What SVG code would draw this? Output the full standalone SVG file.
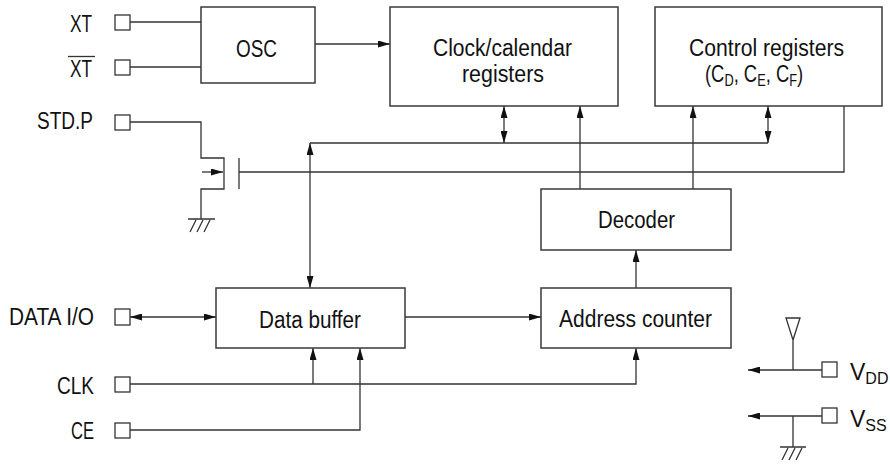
<svg xmlns="http://www.w3.org/2000/svg" width="890" height="465" viewBox="0 0 890 465">
<style>
.bx{fill:#fff;stroke:#3a3a3a;stroke-width:1.5}
.ln{fill:none;stroke:#333;stroke-width:1.3}
.pad{fill:#fff;stroke:#333;stroke-width:1.3}
.t{font-family:"Liberation Sans Narrow","Liberation Sans",Arial,sans-serif;font-size:23px;fill:#111}
.s{font-size:16px}
</style>
<defs>
<marker id="a" viewBox="0 0 12 7" refX="12" refY="3.5" markerWidth="12" markerHeight="7" markerUnits="userSpaceOnUse" orient="auto-start-reverse">
<path d="M0,0L12,3.5L0,7z" fill="#111"/>
</marker>
</defs>
<rect width="890" height="465" fill="#fff"/>
<g id="connectors">
<path class="ln" d="M130,22H201M130,67H201"/>
<path class="ln" d="M315,44H390" marker-end="url(#a)"/>
<path class="ln" d="M130,122H201V158H224V189H201V219"/>
<path class="ln" d="M202,172H223" marker-end="url(#a)"/>
<path class="ln" d="M239,158V189"/>
<path class="ln" d="M188,219H215M196,220L190,232M203,220L197,232M210,220L204,232"/>
<path class="ln" d="M239,172H844V106"/>
<path class="ln" d="M310,143H768"/>
<path class="ln" d="M310,143V288" marker-start="url(#a)" marker-end="url(#a)"/>
<path class="ln" d="M504,106V143" marker-start="url(#a)" marker-end="url(#a)"/>
<path class="ln" d="M768,106V143" marker-start="url(#a)" marker-end="url(#a)"/>
<path class="ln" d="M580,189V106" marker-end="url(#a)"/>
<path class="ln" d="M693,189V106" marker-end="url(#a)"/>
<path class="ln" d="M636,288V250" marker-end="url(#a)"/>
<path class="ln" d="M130,317H216" marker-start="url(#a)" marker-end="url(#a)"/>
<path class="ln" d="M405,317H541" marker-end="url(#a)"/>
<path class="ln" d="M130,384H636V348" marker-end="url(#a)"/>
<path class="ln" d="M313,384V348" marker-end="url(#a)"/>
<path class="ln" d="M130,430H360V348" marker-end="url(#a)"/>
<path class="ln" d="M822,370H748" marker-end="url(#a)"/>
<path class="ln" d="M793,340V370M786,318H800L793,340Z"/>
<path class="ln" d="M822,416H748" marker-end="url(#a)"/>
<path class="ln" d="M793,416V447M780,447H806M788,448L782,460M795,448L789,460M802,448L796,460"/>
</g>
<g id="pad-xt"><rect class="pad" x="115" y="15" width="15" height="15"/><text class="t" x="70" y="32" textLength="22" lengthAdjust="spacingAndGlyphs">XT</text></g>
<g id="pad-xtbar"><rect class="pad" x="115" y="60" width="15" height="15"/><text class="t" x="70" y="76.5" textLength="22" lengthAdjust="spacingAndGlyphs">XT</text><path class="ln" d="M68,56.5H95"/></g>
<g id="pad-stdp"><rect class="pad" x="115" y="115" width="15" height="15"/><text class="t" x="37" y="128.5" textLength="56" lengthAdjust="spacingAndGlyphs">STD.P</text></g>
<g id="pad-dataio"><rect class="pad" x="115" y="309" width="15" height="16"/><text class="t" x="9" y="325" textLength="85" lengthAdjust="spacingAndGlyphs">DATA I/O</text></g>
<g id="pad-clk"><rect class="pad" x="115" y="377" width="15" height="15"/><text class="t" x="57" y="394" textLength="37" lengthAdjust="spacingAndGlyphs">CLK</text></g>
<g id="pad-ce"><rect class="pad" x="115" y="423" width="15" height="15"/><text class="t" x="71" y="439" textLength="23" lengthAdjust="spacingAndGlyphs">CE</text></g>
<g id="osc"><rect class="bx" x="201" y="7" width="114" height="76"/><text class="t" x="236" y="57" textLength="41" lengthAdjust="spacingAndGlyphs">OSC</text></g>
<g id="clock"><rect class="bx" x="390" y="7" width="228" height="99"/><text class="t" x="433" y="55.5" textLength="139" lengthAdjust="spacingAndGlyphs">Clock/calendar</text><text class="t" x="462" y="81.5" textLength="82" lengthAdjust="spacingAndGlyphs">registers</text></g>
<g id="control"><rect class="bx" x="655" y="7" width="227" height="99"/><text class="t" x="689" y="55.5" textLength="155" lengthAdjust="spacingAndGlyphs">Control registers</text><text class="t" transform="translate(705,82) scale(0.8,1)" x="0" y="0">(C<tspan class="s" dy="4">D</tspan><tspan dy="-4">, C</tspan><tspan class="s" dy="4">E</tspan><tspan dy="-4">, C</tspan><tspan class="s" dy="4">F</tspan><tspan dy="-4">)</tspan></text></g>
<g id="decoder"><rect class="bx" x="541" y="189" width="190" height="61"/><text class="t" x="598" y="228" textLength="77" lengthAdjust="spacingAndGlyphs">Decoder</text></g>
<g id="addr"><rect class="bx" x="541" y="288" width="190" height="60"/><text class="t" x="559" y="327" textLength="153" lengthAdjust="spacingAndGlyphs">Address counter</text></g>
<g id="databuf"><rect class="bx" x="216" y="288" width="189" height="60"/><text class="t" x="259" y="328" textLength="102" lengthAdjust="spacingAndGlyphs">Data buffer</text></g>
<g id="pad-vdd"><rect class="pad" x="822" y="362" width="15" height="15"/><text class="t" x="850" y="380">V<tspan class="s" dy="4">DD</tspan></text></g>
<g id="pad-vss"><rect class="pad" x="822" y="408" width="15" height="15"/><text class="t" x="850" y="427">V<tspan class="s" dy="4">SS</tspan></text></g>
</svg>
